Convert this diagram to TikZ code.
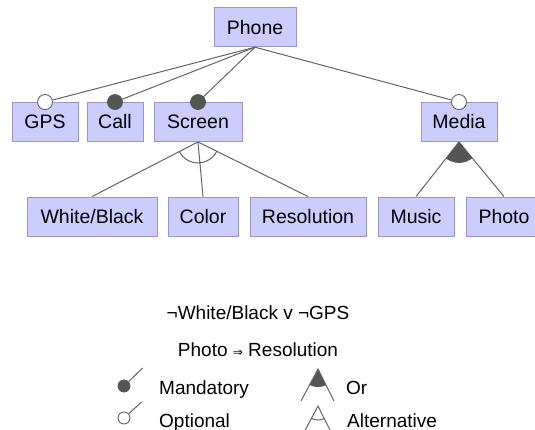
\documentclass[tikz,border=0pt]{standalone}
\usepackage{fontspec}
\setmainfont{Liberation Sans}
\newfontfamily\symfont{DejaVu Sans}
\definecolor{boxfill}{RGB}{204,204,255}
\definecolor{boxline}{RGB}{150,150,200}
\definecolor{edgecol}{RGB}{100,100,100}
\definecolor{dotcol}{RGB}{85,85,85}
\tikzset{
  feat/.style={draw=boxline, fill=boxfill, line width=0.9pt, minimum height=39pt,
    inner sep=0pt, font=\fontsize{19.5}{23}\selectfont},
  edge/.style={draw=edgecol, line width=1pt},
  mandatory/.style={circle, fill=dotcol, draw=dotcol, line width=0.8pt, minimum size=15pt, inner sep=0pt},
  optional/.style={circle, fill=white, draw=edgecol, line width=0.9pt, minimum size=15pt, inner sep=0pt},
  legtext/.style={inner sep=0pt, font=\fontsize{19}{23}\selectfont},
}
\begin{document}
\begin{tikzpicture}[x=1pt, y=-1pt]
\useasboundingbox (0,0) rectangle (535,430);

% feature boxes
\node[feat, minimum width=82pt] (phone) at (255,27.25) {Phone};
\node[feat, minimum width=66pt] (gps) at (45,122) {GPS};
\node[feat, minimum width=56pt] (call) at (115,122) {Call};
\node[feat, minimum width=88pt] (screen) at (198,122) {Screen};
\node[feat, minimum width=76pt] (media) at (459,122) {Media};
\node[feat, minimum width=130pt] (wb) at (92,216.5) {White/Black};
\node[feat, minimum width=70pt] (color) at (203,216.5) {Color};
\node[feat, minimum width=116pt] (res) at (308,216.5) {Resolution};
\node[feat, minimum width=76pt] (music) at (416,216.5) {Music};
\node[feat, minimum width=76pt] (photo) at (504,216.5) {Photo};

% parent-child connectors
\foreach \c in {gps,call,screen,media} \draw[edge] (phone.south) -- (\c.north);
\foreach \c in {wb,color,res} \draw[edge] (screen.south) -- (\c.north);
\foreach \c in {music,photo} \draw[edge] (media.south) -- (\c.north);

% alternative group arc under Screen
\begin{scope}
  \clip (screen.south) -- (wb.north) -- (res.north) -- cycle;
  \draw[edge] (screen.south) circle (21);
\end{scope}
% or group sector under Media
\begin{scope}
  \clip (media.south) circle (21);
  \fill[dotcol] (media.south) -- (music.north) -- (photo.north) -- cycle;
\end{scope}

% mandatory / optional markers
\node[optional] (gpsdot) at (gps.north) {};
\node[mandatory] (calldot) at (call.north) {};
\node[mandatory] (screendot) at (screen.north) {};
\node[optional] (mediadot) at (media.north) {};

% cross-tree constraints
\node[legtext] (cons1) at (258,312.5) {¬White/Black v ¬GPS};
\node[legtext] (cons2) at (258,350) {Photo {\symfont\fontsize{12}{12}\selectfont ⇒} Resolution};

% legend: mandatory and optional
\coordinate (mandend) at (142.6,368);
\node[mandatory, minimum size=12pt] (manddot) at (124,386) {};
\draw[edge] (manddot) -- (mandend);
\node[legtext, anchor=base west] (mandlbl) at (159,394) {Mandatory};

\coordinate (optend) at (141.6,402);
\node[optional, minimum size=12pt] (optdot) at (124,418) {};
\draw[edge] (optdot) -- (optend);
\node[legtext, anchor=base west] (optlbl) at (159,427) {Optional};

% legend: or and alternative
\coordinate (ortop) at (318,369);
\coordinate (orleft) at (301,401);
\coordinate (orright) at (334,401);
\begin{scope}
  \clip (ortop) circle (18);
  \fill[dotcol] (ortop) -- (orleft) -- (orright) -- cycle;
\end{scope}
\draw[edge] (orleft) -- (ortop) -- (orright);
\node[legtext, anchor=base west] (orlbl) at (346,394) {Or};

\coordinate (alttop) at (318,406);
\coordinate (altleft) at (301,438);
\coordinate (altright) at (334,438);
\draw[edge] (altleft) -- (alttop) -- (altright);
\begin{scope}
  \clip (alttop) -- (altleft) -- (altright) -- cycle;
  \draw[edge] (alttop) circle (14);
\end{scope}
\node[legtext, anchor=base west] (altlbl) at (347,427) {Alternative};
\end{tikzpicture}
\end{document}
